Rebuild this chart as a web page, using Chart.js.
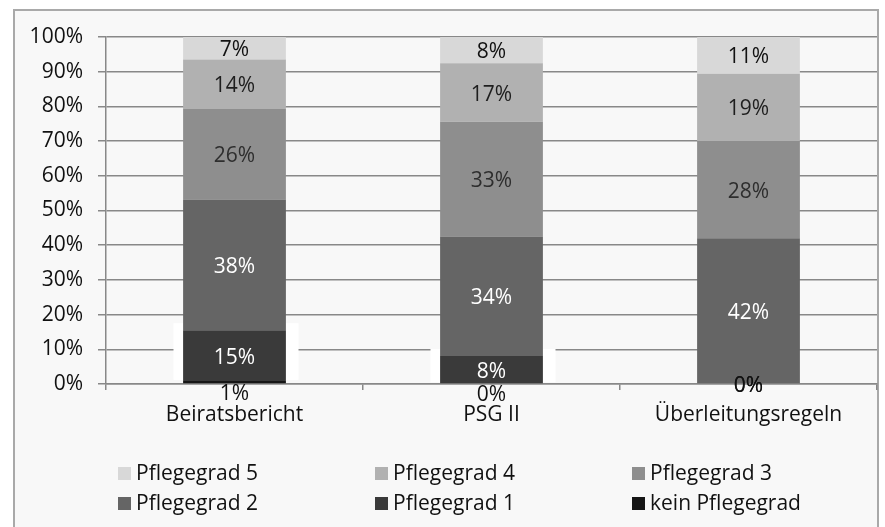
<!DOCTYPE html>
<html>
<head>
<meta charset="utf-8">
<script src="https://cdn.jsdelivr.net/npm/chart.js@4.4.1/dist/chart.umd.min.js"></script>
<style>
  html, body { margin: 0; padding: 0; background: #ffffff; }
  #frame { position: absolute; left: 13px; top: 9px; width: 866px; height: 540px; box-sizing: border-box; border: 2px solid #a9a9a9; background: #f8f8f8; }
  #chart { position: absolute; left: 0; top: 0; }
</style>
</head>
<body>
<div id="frame"></div>
<canvas id="chart" width="885" height="527"></canvas>
<script>
// values in percent
const categories = ['Beiratsbericht', 'PSG II', 'Überleitungsregeln'];
const keinPflegegrad = [0.9, 0, 0];
const pflegegrad1 = [14.6, 8.1, 0];
const pflegegrad2 = [37.7, 34.4, 42.0];
const pflegegrad3 = [26.2, 33.1, 28.0];
const pflegegrad4 = [14.1, 16.8, 19.4];
const pflegegrad5 = [6.5, 7.6, 10.6];
const yTickValues = [0, 10, 20, 30, 40, 50, 60, 70, 80, 90, 100];

const FONT = '"Open Sans", "Noto Sans", sans-serif';
const GRID = '#888888';

// white label boxes behind the bottom labels
const labelBoxes = {
  id: 'labelBoxes',
  beforeDatasetsDraw(chart) {
    const ctx = chart.ctx;
    const ds = chart.data.datasets[1];
    ctx.save();
    ctx.fillStyle = '#ffffff';
    chart.getDatasetMeta(1).data.forEach((bar, j) => {
      if (!(ds.data[j] > 0)) return;
      ctx.fillRect(bar.x - 61, bar.y - 7, 125, bar.base - bar.y + 6);
    });
    ctx.restore();
  }
};

const segmentLabels = {
  id: 'segmentLabels',
  afterDatasetsDraw(chart) {
    const ctx = chart.ctx;
    const sets = chart.data.datasets;
    ctx.save();
    ctx.font = '21px ' + FONT;
    ctx.textAlign = 'center';
    ctx.textBaseline = 'middle';
    for (let i = sets.length - 1; i >= 0; i--) {
      chart.getDatasetMeta(i).data.forEach((bar, j) => {
        const v = sets[i].data[j];
        let y = (bar.y + bar.base) / 2 + 2;
        // bottom segment label goes under the axis when the one above is filled
        if (i === 0 && sets[1].data[j] > 0) y = bar.base + 11;
        ctx.fillStyle = v < 1 ? '#111111' : sets[i].labelColor;
        ctx.fillText(Math.round(v) + '%', bar.x, y);
      });
    }
    ctx.restore();
  }
};

const gridLegend = {
  id: 'gridLegend',
  afterDraw(chart) {
    const ctx = chart.ctx;
    const area = chart.chartArea;
    const colW = area.width / 3;
    const items = chart.data.datasets.slice().reverse();
    ctx.save();
    ctx.font = '21px ' + FONT;
    ctx.textAlign = 'left';
    ctx.textBaseline = 'alphabetic';
    items.forEach((ds, k) => {
      const x = area.left + 12 + (k % 3) * colW;
      const y = 480 + Math.floor(k / 3) * 30;
      ctx.fillStyle = ds.backgroundColor;
      ctx.fillRect(x, y - 13, 13, 13);
      ctx.fillStyle = '#111111';
      ctx.fillText(ds.label, x + 18, y);
    });
    ctx.restore();
  }
};

function series(label, data, color, labelColor) {
  return {
    label: label,
    data: data,
    backgroundColor: color,
    labelColor: labelColor,
    borderWidth: 0,
    barPercentage: 0.4,
    categoryPercentage: 1.0
  };
}

new Chart(document.getElementById('chart'), {
  type: 'bar',
  data: {
    labels: categories,
    datasets: [
      series('kein Pflegegrad', keinPflegegrad, '#161616', '#111111'),
      series('Pflegegrad 1', pflegegrad1, '#3a3a3a', '#ffffff'),
      series('Pflegegrad 2', pflegegrad2, '#656565', '#ffffff'),
      series('Pflegegrad 3', pflegegrad3, '#8e8e8e', '#2e2e2e'),
      series('Pflegegrad 4', pflegegrad4, '#b1b1b1', '#1e1e1e'),
      series('Pflegegrad 5', pflegegrad5, '#d8d8d8', '#111111')
    ]
  },
  options: {
    responsive: false,
    animation: false,
    layout: { padding: { top: 37, right: 8, left: 0, bottom: 0 } },
    plugins: {
      legend: { display: false },
      tooltip: { enabled: false }
    },
    scales: {
      x: {
        stacked: true,
        grid: { offset: true, drawOnChartArea: false, drawTicks: true, tickLength: 6, color: GRID, lineWidth: 1.5 },
        border: { color: GRID, width: 1.5 },
        ticks: { font: { family: FONT, size: 21 }, color: '#111111', padding: 12, maxRotation: 0 },
        afterFit(scale) { scale.height = 143; }
      },
      y: {
        stacked: true,
        min: 0,
        max: 100,
        afterBuildTicks(scale) { scale.ticks = yTickValues.map(v => ({ value: v })); },
        grid: { color: GRID, lineWidth: 1.5, tickLength: 8 },
        border: { color: GRID, width: 1.5 },
        ticks: { font: { family: FONT, size: 21 }, color: '#111111', padding: 15, callback: v => v + '%' },
        afterFit(scale) { scale.width = 106; }
      }
    }
  },
  plugins: [labelBoxes, segmentLabels, gridLegend]
});
</script>
</body>
</html>
